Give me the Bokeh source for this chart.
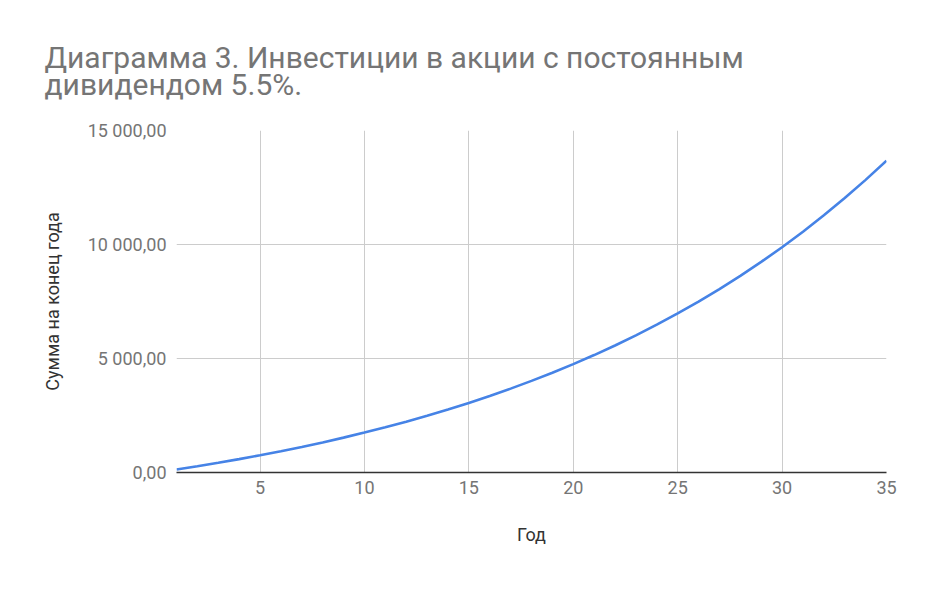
from bokeh.plotting import figure
from bokeh.models import FixedTicker, Range1d, Title
from bokeh.embed import file_html
from bokeh.resources import INLINE

# Data
years = list(range(1, 36))
amounts = [130, 274, 425, 586, 755, 933, 1122, 1320, 1530, 1751,
           1984, 2230, 2489, 2763, 3052, 3357, 3678, 4018, 4375, 4753,
           5151, 5571, 6015, 6482, 6976, 7496, 8046, 8625, 9236, 9881,
           10562, 11279, 12037, 12835, 13679]
x_ticks = [5, 10, 15, 20, 25, 30, 35]
y_ticks = [0, 5000, 10000, 15000]
y_tick_labels = ["0,00", "5 000,00", "10 000,00", "15 000,00"]
title_lines = ["Диаграмма 3. Инвестиции в акции с постоянным", "дивидендом 5.5%."]
x_label = "Год"
y_label = "Сумма на конец года"

FONT = "Roboto"

p = figure(width=923, height=578, output_backend="svg", toolbar_location=None,
           x_range=Range1d(1, 35), y_range=Range1d(0, 15000),
           min_border_left=176, min_border_right=37, min_border_top=130,
           min_border_bottom=106)
p.title.visible = False
p.outline_line_color = None

p.line(years, amounts, line_color="#4683e6", line_width=2.6)

# two-line title
p.add_layout(Title(text="\n".join(title_lines), align="left", offset=-132,
                   text_font=FONT, text_font_size="30px", text_font_style="normal",
                   text_color="#757575", text_line_height=0.78, standoff=56),
             "above")

# axes
p.xaxis.ticker = FixedTicker(ticks=x_ticks)
p.xaxis.axis_line_color = "#333333"
p.xaxis.axis_line_width = 1.3
p.xaxis.major_tick_line_color = None
p.xaxis.minor_tick_line_color = None
p.xaxis.major_tick_out = 0
p.xaxis.major_tick_in = 0
p.xaxis.minor_tick_out = 0
p.xaxis.major_label_standoff = 8
p.xaxis.major_label_text_font = FONT
p.xaxis.major_label_text_font_size = "18px"
p.xaxis.major_label_text_color = "#757575"
p.xaxis.axis_label = x_label
p.xaxis.axis_label_text_font = FONT
p.xaxis.axis_label_text_font_size = "18px"
p.xaxis.axis_label_text_font_style = "normal"
p.xaxis.axis_label_text_color = "#333333"
p.xaxis.axis_label_standoff = 27

p.yaxis.ticker = FixedTicker(ticks=y_ticks)
p.yaxis.major_label_overrides = dict(zip(y_ticks, y_tick_labels))
p.yaxis.axis_line_color = None
p.yaxis.major_tick_line_color = None
p.yaxis.minor_tick_line_color = None
p.yaxis.major_tick_out = 0
p.yaxis.major_tick_in = 0
p.yaxis.minor_tick_out = 0
p.yaxis.major_label_standoff = 10
p.yaxis.major_label_text_font = FONT
p.yaxis.major_label_text_font_size = "18px"
p.yaxis.major_label_text_color = "#757575"
p.yaxis.axis_label = y_label
p.yaxis.axis_label_text_font = FONT
p.yaxis.axis_label_text_font_size = "18px"
p.yaxis.axis_label_text_font_style = "normal"
p.yaxis.axis_label_text_color = "#333333"
p.yaxis.axis_label_standoff = 22

p.xgrid.grid_line_color = "#cccccc"
p.ygrid.grid_line_color = "#cccccc"
p.xgrid.grid_line_width = 1
p.ygrid.grid_line_width = 1

open("out.html", "w").write(file_html(p, INLINE))
